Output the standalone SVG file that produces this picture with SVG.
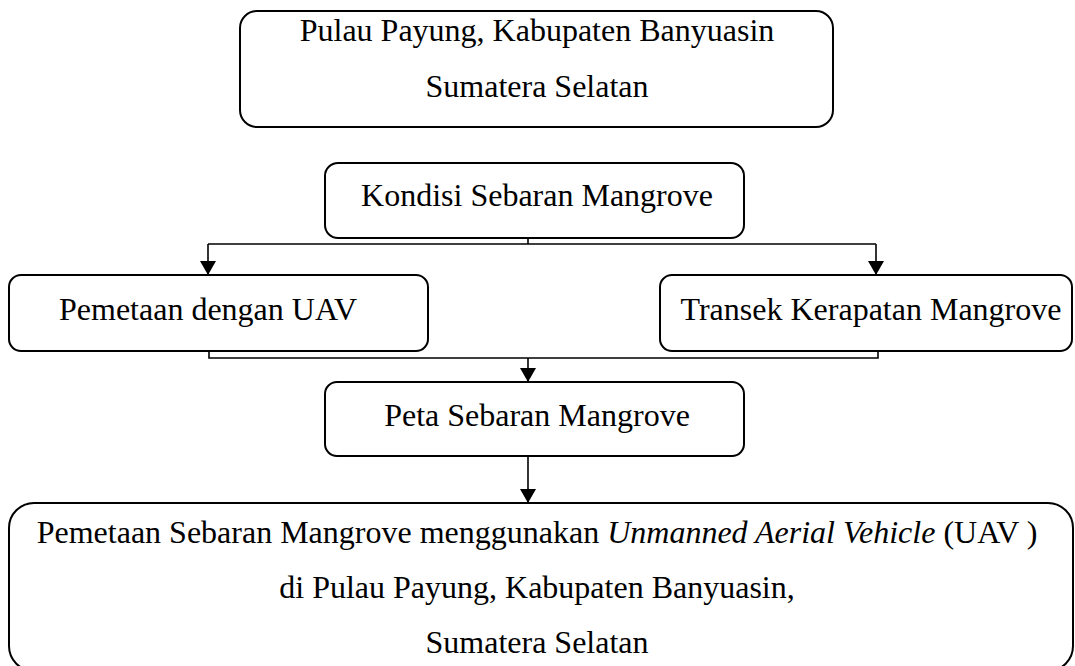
<svg xmlns="http://www.w3.org/2000/svg" width="1075" height="666" viewBox="0 0 1075 666">
<style>
.box{fill:#fff;stroke:#000;stroke-width:2}
.t{font-family:"Liberation Serif","Times New Roman",serif;font-size:32px;fill:#000;text-anchor:middle}
.ln{fill:none;stroke:#000;stroke-width:1.6}
</style>
<defs>
<marker id="ah" markerWidth="16" markerHeight="14" refX="8" refY="14" orient="0" markerUnits="userSpaceOnUse" viewBox="0 0 16 14">
<path d="M0,0 L16,0 L8,14 Z" fill="#000"/>
</marker>
</defs>
<rect width="1075" height="666" fill="#fff"/>
<g id="n1">
<rect class="box" x="240" y="11" width="593" height="116" rx="17"/>
<text class="t" x="537" y="41">Pulau Payung, Kabupaten Banyuasin</text>
<text class="t" x="537" y="97">Sumatera Selatan</text>
</g>
<g id="n2">
<rect class="box" x="325" y="163" width="419" height="75" rx="13"/>
<text class="t" x="537" y="206">Kondisi Sebaran Mangrove</text>
</g>
<g id="n3">
<rect class="box" x="9" y="275" width="419" height="76" rx="12"/>
<text class="t" x="208" y="320">Pemetaan dengan UAV</text>
</g>
<g id="n4">
<rect class="box" x="660" y="275" width="412" height="76" rx="12"/>
<text class="t" x="871" y="320">Transek Kerapatan Mangrove</text>
</g>
<g id="n5">
<rect class="box" x="325" y="382" width="419" height="74" rx="12"/>
<text class="t" x="537" y="426">Peta Sebaran Mangrove</text>
</g>
<g id="n6">
<rect class="box" x="9" y="503" width="1064" height="168" rx="25"/>
<text class="t" x="537" y="543">Pemetaan Sebaran Mangrove menggunakan <tspan font-style="italic">Unmanned Aerial Vehicle</tspan> (UAV )</text>
<text class="t" x="537" y="598">di Pulau Payung, Kabupaten Banyuasin,</text>
<text class="t" x="537" y="653">Sumatera Selatan</text>
</g>
<g id="connectors">
<path class="ln" d="M528,238 V244 M208,244 H876"/>
<path class="ln" d="M208,244 V275" marker-end="url(#ah)"/>
<path class="ln" d="M876,244 V275" marker-end="url(#ah)"/>
<path class="ln" d="M209,351 V358 H878 V351"/>
<path class="ln" d="M528,358 V382" marker-end="url(#ah)"/>
<path class="ln" d="M528,456 V503" marker-end="url(#ah)"/>
</g>
</svg>
